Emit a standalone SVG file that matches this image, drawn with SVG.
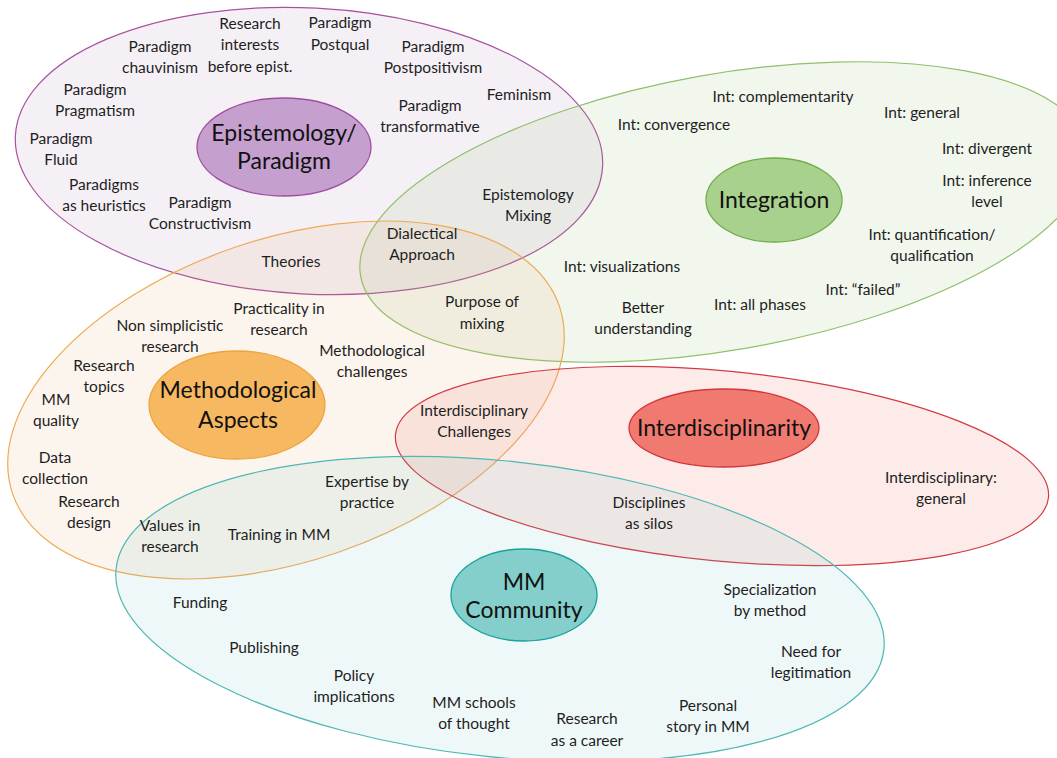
<svg xmlns="http://www.w3.org/2000/svg" width="1057" height="758" viewBox="0 0 1057 758">
<style>
text{font-family:Lato,"Open Sans",sans-serif;font-size:15.5px;fill:#1e1e1e;text-anchor:middle}
.hub{font-size:23px;fill:#111}
.big{stroke-width:1.2}
.hubE{stroke-width:1.3}
</style>
<rect width="1057" height="758" fill="#fff"/>
<g id="areas">
<g id="area-epistemology"><ellipse class="big" cx="309" cy="151" rx="294" ry="143" transform="rotate(3 309 151)" fill="#9c6aa8" fill-opacity="0.1" stroke="#a8519f"/></g>
<g id="area-integration"><ellipse class="big" cx="724" cy="212" rx="369" ry="138" transform="rotate(-10 724 212)" fill="#86b468" fill-opacity="0.11" stroke="#8fc06a"/></g>
<g id="area-methodological"><ellipse class="big" cx="286" cy="400" rx="289" ry="161" transform="rotate(-19 286 400)" fill="#e8a060" fill-opacity="0.11" stroke="#efaa55"/></g>
<g id="area-interdisciplinarity"><ellipse class="big" cx="722" cy="466" rx="328" ry="95" transform="rotate(5.5 722 466)" fill="#ec7c6c" fill-opacity="0.15" stroke="#d23a44"/></g>
<g id="area-community"><ellipse class="big" cx="500" cy="609" rx="386" ry="148" transform="rotate(6 500 609)" fill="#70bcbc" fill-opacity="0.11" stroke="#4db8b4"/></g>
</g>
<g id="connectors"></g>
<g id="hub-epistemology"><ellipse class="hubE" cx="284" cy="147" rx="87" ry="49" fill="#c59fce" stroke="#a14d9f"/><text class="hub" x="284" y="141">Epistemology/</text><text class="hub" x="284" y="169">Paradigm</text></g>
<g id="hub-integration"><ellipse class="hubE" cx="774" cy="200" rx="68" ry="42" fill="#a9d18e" stroke="#70ad47"/><text class="hub" x="774" y="208">Integration</text></g>
<g id="hub-methodological"><ellipse class="hubE" cx="237" cy="405" rx="88" ry="54" fill="#f7b862" stroke="#eca53d"/><text class="hub" x="238" y="398">Methodological</text><text class="hub" x="238" y="428">Aspects</text></g>
<g id="hub-interdisciplinarity"><ellipse class="hubE" cx="724" cy="428" rx="95" ry="39" fill="#f07a70" stroke="#d4363b"/><text class="hub" x="724" y="436">Interdisciplinarity</text></g>
<g id="hub-community"><ellipse class="hubE" cx="524" cy="595" rx="73" ry="46" fill="#84cfcb" stroke="#17a39a"/><text class="hub" x="524" y="590">MM</text><text class="hub" x="524" y="618">Community</text></g>
<g id="labels-epistemology">
<text x="250" y="29">Research</text><text x="250" y="50">interests</text><text x="250" y="72">before epist.</text>
<text x="340" y="28">Paradigm</text><text x="340" y="50">Postqual</text>
<text x="160" y="52">Paradigm</text><text x="160" y="73">chauvinism</text>
<text x="433" y="52">Paradigm</text><text x="433" y="73">Postpositivism</text>
<text x="95" y="95">Paradigm</text><text x="95" y="116">Pragmatism</text>
<text x="519" y="100">Feminism</text>
<text x="430" y="111">Paradigm</text><text x="430" y="132">transformative</text>
<text x="61" y="144">Paradigm</text><text x="61" y="165">Fluid</text>
<text x="104" y="190">Paradigms</text><text x="104" y="211">as heuristics</text>
<text x="200" y="208">Paradigm</text><text x="200" y="229">Constructivism</text>
<text x="528" y="200">Epistemology</text><text x="528" y="221">Mixing</text>
<text x="422" y="239">Dialectical</text><text x="422" y="260">Approach</text>
<text x="291" y="267">Theories</text>
</g>
<g id="labels-integration">
<text x="783" y="102">Int: complementarity</text>
<text x="922" y="118">Int: general</text>
<text x="674" y="130">Int: convergence</text>
<text x="987" y="154">Int: divergent</text>
<text x="987" y="186">Int: inference</text><text x="987" y="207">level</text>
<text x="932" y="240">Int: quantification/</text><text x="932" y="261">qualification</text>
<text x="622" y="272">Int: visualizations</text>
<text x="863" y="295">Int: “failed”</text>
<text x="760" y="310">Int: all phases</text>
<text x="643" y="313">Better</text><text x="643" y="334">understanding</text>
<text x="482" y="307">Purpose of</text><text x="482" y="329">mixing</text>
</g>
<g id="labels-methodological">
<text x="279" y="314">Practicality in</text><text x="279" y="335">research</text>
<text x="170" y="331">Non simplicistic</text><text x="170" y="352">research</text>
<text x="372" y="356">Methodological</text><text x="372" y="377">challenges</text>
<text x="104" y="371">Research</text><text x="104" y="392">topics</text>
<text x="56" y="405">MM</text><text x="56" y="426">quality</text>
<text x="55" y="463">Data</text><text x="55" y="484">collection</text>
<text x="89" y="507">Research</text><text x="89" y="528">design</text>
<text x="170" y="531">Values in</text><text x="170" y="552">research</text>
<text x="279" y="540">Training in MM</text>
<text x="367" y="487">Expertise by</text><text x="367" y="508">practice</text>
</g>
<g id="labels-interdisciplinarity">
<text x="474" y="416">Interdisciplinary</text><text x="474" y="437">Challenges</text>
<text x="941" y="483">Interdisciplinary:</text><text x="941" y="504">general</text>
<text x="649" y="508">Disciplines</text><text x="649" y="529">as silos</text>
</g>
<g id="labels-community">
<text x="200" y="608">Funding</text>
<text x="264" y="653">Publishing</text>
<text x="354" y="681">Policy</text><text x="354" y="702">implications</text>
<text x="474" y="708">MM schools</text><text x="474" y="729">of thought</text>
<text x="587" y="724">Research</text><text x="587" y="746">as a career</text>
<text x="708" y="711">Personal</text><text x="708" y="732">story in MM</text>
<text x="770" y="595">Specialization</text><text x="770" y="616">by method</text>
<text x="811" y="657">Need for</text><text x="811" y="678">legitimation</text>
</g>
</svg>
